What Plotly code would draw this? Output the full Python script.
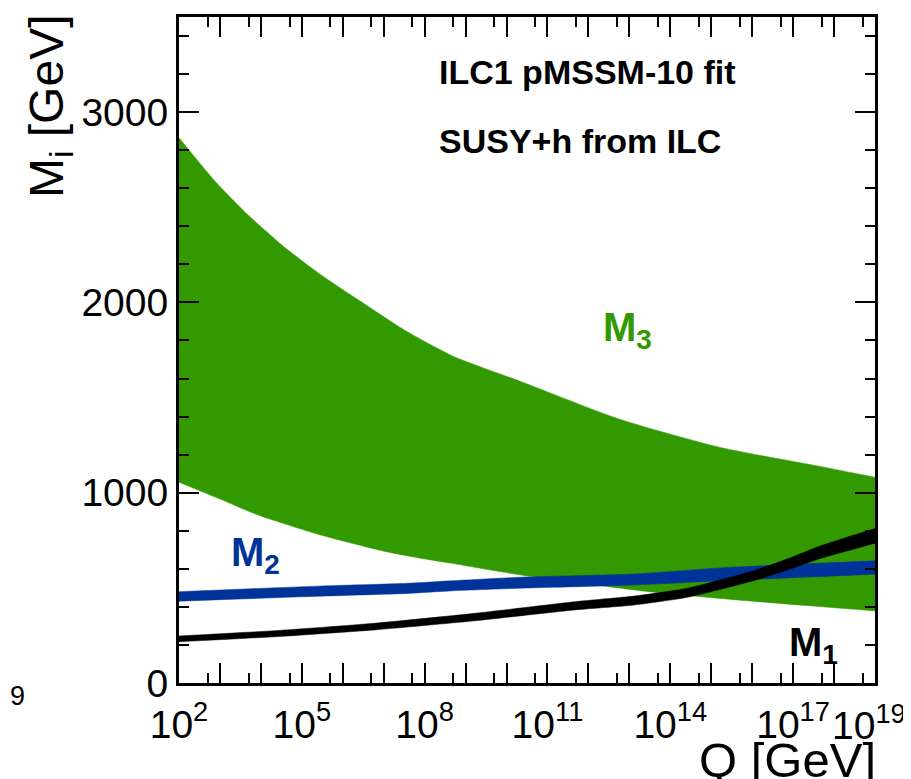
import plotly.graph_objects as go

# ---------------- data ----------------
# M3 band (green): upper and lower edges, x in log10(Q/GeV)
m3_up_logq = [2.0, 2.85, 3.68, 4.56, 5.46, 6.37, 7.49, 8.71, 10.34, 12.78, 15.22, 17.66, 19.0]
m3_up = [2865, 2644, 2461, 2293, 2146, 2015, 1857, 1716, 1585, 1385, 1238, 1138, 1081]
m3_lo_logq = [2.0, 3.02, 3.76, 4.24, 5.39, 7.0, 7.9, 8.63, 10.34, 13.6, 16.0, 19.0]
m3_lo = [1055, 965, 897, 860, 782, 693, 656, 630, 568, 477, 430, 379]

# M2 band (blue)
m2_logq = [2.0, 5.39, 7.59, 8.63, 10.34, 13.12, 15.22, 19.0]
m2_lo = [430, 456, 471, 484, 498, 515, 537, 572]
m2_up = [480, 509, 524, 537, 556, 573, 605, 642]

# M1 band (black)
m1_logq = [2.0, 4.34, 6.78, 9.22, 11.66, 13.12, 14.41, 16.02, 16.85, 17.66, 19.0]
m1_lo = [217, 243, 279, 327, 384, 410, 450, 537, 593, 654, 735]
m1_up = [247, 275, 314, 366, 427, 457, 498, 589, 651, 720, 812]

# axis ticks
x_tick_exp = list(range(2, 20))
x_label_exp = [2, 5, 8, 11, 14, 17]   # 10^19 label drawn separately (right-aligned at the frame edge)
x_last_label_exp = 19
x_minor_exp = list(range(2, 19))
y_tick_vals = [0, 1000, 2000, 3000]
y_range = [0, 3500]

GREEN = "#339900"
BLUE = "#003399"
BLACK = "#000000"
FONT = "Liberation Sans, Arial, Helvetica, sans-serif"

fig = go.Figure()
for (lu, u, ll, l, col) in [
    (m3_up_logq, m3_up, m3_lo_logq, m3_lo, GREEN),
    (m2_logq, m2_up, m2_logq, m2_lo, BLUE),
    (m1_logq, m1_up, m1_logq, m1_lo, BLACK),
]:
    fig.add_trace(go.Scatter(x=[10 ** v for v in ll], y=l, mode="lines",
                             line=dict(color=col, width=0.5, shape="spline", smoothing=0.6),
                             hoverinfo="skip", showlegend=False))
    fig.add_trace(go.Scatter(x=[10 ** v for v in lu], y=u, mode="lines", fill="tonexty",
                             fillcolor=col,
                             line=dict(color=col, width=0.5, shape="spline", smoothing=0.6),
                             hoverinfo="skip", showlegend=False))

tickvals = [10 ** e for e in x_tick_exp]
ticktext = [f"10<sup>{e}</sup>" if e in x_label_exp else "" for e in x_tick_exp]

fig.update_xaxes(
    type="log", range=[1.9999, 19.0001], automargin=False,
    tickmode="array", tickvals=tickvals, ticktext=ticktext,
    ticks="inside", ticklen=20, tickwidth=2, tickcolor="black",
    showline=True, linewidth=3, linecolor="black", mirror="ticks",
    showgrid=False, zeroline=False, ticklabeloverflow="allow",
    ticklabelstandoff=5,
    tickfont=dict(family=FONT, size=39, color="black"),
    minor=dict(tickvals=[5 * 10 ** e for e in x_minor_exp], ticklen=10,
               tickwidth=2, tickcolor="black", ticks="inside", showgrid=False),
)
fig.update_yaxes(
    range=y_range, automargin=False,
    tickmode="array", tickvals=y_tick_vals,
    ticks="inside", ticklen=20, tickwidth=2, tickcolor="black",
    showline=True, linewidth=3, linecolor="black", mirror="ticks",
    showgrid=False, zeroline=False,
    tickfont=dict(family=FONT, size=39, color="black"),
    minor=dict(dtick=200, ticklen=10, tickwidth=2, tickcolor="black",
               ticks="inside", showgrid=False),
)

# page offset: the browser's default 8px body margin
OFF = 8
WIN_W, WIN_H = 911, 779
W, H = WIN_W - OFF, WIN_H - OFF
# plot frame in reference pixels: left 179, right 875, top 17, bottom 683
L = 179 - OFF
T = 17 - OFF
R = W - (875 - OFF)
B = H - (683 - OFF)
pw, ph = W - L - R, H - T - B


def px2paper(x, y):
    # x, y are reference (window) pixels
    return (x - OFF - L) / pw, (H - B - (y - OFF)) / ph


ann = [
    dict(text="<b>ILC1 pMSSM-10 fit</b>", x=437, y=72, size=34, color="black", xa="left"),
    dict(text="<b>SUSY+h from ILC</b>", x=437, y=141, size=34, color="black", xa="left"),
    dict(text="<b>M<sub>3</sub></b>", x=601, y=330, size=40, color=GREEN, xa="left"),
    dict(text="<b>M<sub>2</sub></b>", x=229, y=555, size=40, color=BLUE, xa="left"),
    dict(text="<b>M<sub>1</sub></b>", x=787, y=645, size=40, color=BLACK, xa="left"),
    dict(text="9", x=8, y=696, size=27, color="black", xa="left"),
    dict(text=f"10<sup>{x_last_label_exp}</sup>", x=908, y=722, size=39, color="black", xa="right"),
]

annotations = []
for a in ann:
    px, py = px2paper(a["x"], a["y"])
    annotations.append(dict(text=a["text"], x=px, y=py, xref="paper", yref="paper",
                            xanchor=a["xa"], yanchor="middle", showarrow=False,
                            font=dict(family=FONT, size=a["size"], color=a["color"])))

# axis titles
px, py = px2paper(878, 760)
annotations.append(dict(text="Q [GeV]", x=px, y=py, xref="paper", yref="paper",
                        xanchor="right", yanchor="middle", showarrow=False,
                        font=dict(family=FONT, size=49, color="black")))
px, py = px2paper(50, 12)
annotations.append(dict(text="M<sub>i</sub> [GeV]", x=px, y=py, xref="paper", yref="paper",
                        xanchor="center", yanchor="top", textangle=-90, showarrow=False,
                        font=dict(family=FONT, size=48, color="black")))

fig.update_layout(
    width=W, height=H,
    margin=dict(l=L, r=R, t=T, b=B),
    paper_bgcolor="white", plot_bgcolor="white",
    annotations=annotations,
    showlegend=False,
)

fig.write_html("out.html")
